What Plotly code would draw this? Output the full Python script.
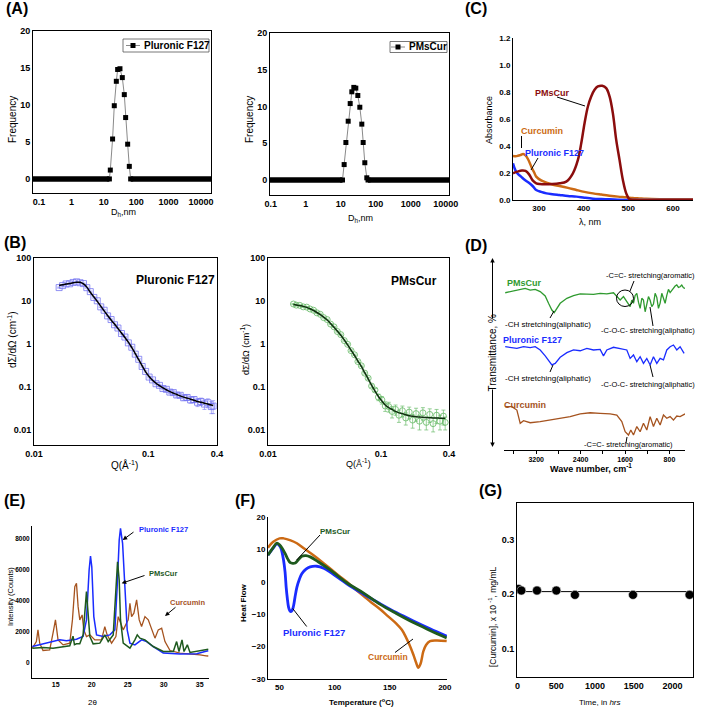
import plotly.graph_objects as go

W, H = 709, 708

# ---------------- DATA ----------------
# (A) DLS size distributions
dls_f127_size = [15.9, 18.7, 21.1, 24.4, 26.8, 31.6, 37.3, 43.0, 47.3, 54.6, 61.4]
dls_f127_freq = [1.2, 5.4, 9.9, 13.2, 14.8, 14.9, 13.7, 11.4, 8.3, 4.7, 1.7]
dls_f127_zero_lo = [0.05, 14.9]
dls_f127_zero_hi = [67.6, 30000]
dls_pms_size = [12.5, 14.0, 16.3, 18.6, 20.7, 23.6, 26.9, 30.7, 35.0, 39.9, 43.6, 48.6, 55.4]
dls_pms_freq = [2.1, 5.1, 8.0, 10.4, 12.0, 12.6, 12.5, 11.5, 9.9, 7.6, 5.1, 2.35, 0.3]
dls_pms_zero_lo = [0.05, 11.2]
dls_pms_zero_hi = [60.0, 30000]
dls_xticks = [0.1, 1, 10, 100, 1000, 10000]

# (B) SANS
sans_q = [0.0166, 0.0178, 0.0191, 0.0205, 0.022, 0.0236, 0.0253, 0.0271, 0.029, 0.0311,
          0.0334, 0.0358, 0.0384, 0.0411, 0.0441, 0.0473, 0.0507, 0.0543, 0.0583, 0.0625,
          0.067, 0.0718, 0.077, 0.0826, 0.0885, 0.0949, 0.1018, 0.1091, 0.117, 0.1254,
          0.1345, 0.1442, 0.1546, 0.1658, 0.1777, 0.1906, 0.2043, 0.2191, 0.2349, 0.2518,
          0.27, 0.2895, 0.3104, 0.3328, 0.3568, 0.37]
f127_fit = [23, 23.8, 24.8, 25.6, 26.5, 27.3, 27.2, 25.0, 21.0, 16.0,
            12.5, 9.8, 7.6, 5.9, 4.6, 3.6, 2.9, 2.3, 1.8, 1.42,
            1.1, 0.82, 0.6, 0.43, 0.31, 0.225, 0.175, 0.143, 0.122, 0.107,
            0.095, 0.086, 0.078, 0.072, 0.067, 0.062, 0.058, 0.055, 0.052, 0.049,
            0.046, 0.044, 0.042, 0.040, 0.038, 0.037]
f127_data = [20.5, 22.8, 24.9, 25.1, 27.0, 27.9, 26.6, 25.4, 20.4, 16.5,
             12.1, 10.1, 7.3, 6.1, 4.5, 3.7, 2.8, 2.35, 1.75, 1.45,
             1.06, 0.84, 0.58, 0.44, 0.30, 0.23, 0.17, 0.146, 0.119, 0.109,
             0.092, 0.088, 0.076, 0.074, 0.065, 0.064, 0.056, 0.057, 0.050, 0.051,
             0.044, 0.046, 0.040, 0.043, 0.035, 0.036]
f127_err = [0.6, 0.6, 0.7, 0.7, 0.7, 0.7, 0.7, 0.7, 0.6, 0.5,
            0.4, 0.3, 0.25, 0.2, 0.15, 0.12, 0.1, 0.08, 0.06, 0.05,
            0.04, 0.03, 0.02, 0.016, 0.012, 0.009, 0.007, 0.006, 0.006, 0.006,
            0.006, 0.006, 0.006, 0.007, 0.007, 0.007, 0.007, 0.008, 0.008, 0.008,
            0.009, 0.009, 0.01, 0.01, 0.011, 0.012]
pms_fit = [8.3, 8.1, 7.8, 7.5, 7.1, 6.6, 6.0, 5.4, 4.8, 4.2,
           3.6, 3.0, 2.45, 2.0, 1.6, 1.25, 0.95, 0.72, 0.54, 0.40,
           0.30, 0.215, 0.155, 0.11, 0.08, 0.06, 0.047, 0.038, 0.033, 0.030,
           0.027, 0.025, 0.024, 0.0225, 0.0215, 0.0208, 0.0203, 0.020, 0.0197, 0.0194,
           0.0192, 0.019, 0.0189, 0.0188, 0.0187, 0.0187]
pms_data = [8.5, 8.0, 7.9, 7.3, 7.2, 6.5, 6.1, 5.3, 4.9, 4.1,
            3.7, 2.9, 2.5, 1.95, 1.65, 1.2, 0.98, 0.7, 0.56, 0.39,
            0.31, 0.21, 0.16, 0.105, 0.085, 0.058, 0.05, 0.036, 0.035, 0.027,
            0.03, 0.022, 0.028, 0.019, 0.026, 0.017, 0.024, 0.016, 0.025, 0.015,
            0.023, 0.014, 0.022, 0.016, 0.021, 0.015]
pms_err = [0.2, 0.2, 0.2, 0.2, 0.2, 0.2, 0.15, 0.15, 0.12, 0.1,
           0.09, 0.08, 0.07, 0.06, 0.05, 0.04, 0.03, 0.025, 0.02, 0.015,
           0.012, 0.01, 0.008, 0.007, 0.007, 0.01, 0.01, 0.009, 0.009, 0.008,
           0.008, 0.007, 0.008, 0.006, 0.008, 0.006, 0.008, 0.006, 0.008, 0.005,
           0.008, 0.005, 0.008, 0.006, 0.008, 0.005]

# (C) UV-Vis
uv_pms_nm = [242, 252, 262, 270, 278, 286, 294, 302, 315, 330, 346.3, 361.2, 376.1, 387.3,
             394.8, 402.2, 409.7, 417.1, 424.6, 432, 441.8, 450.7, 458.2, 465.6, 473.1,
             480.5, 488, 495.5, 503, 515, 600, 645]
uv_pms_abs = [0.198, 0.21, 0.218, 0.215, 0.19, 0.145, 0.124, 0.118, 0.116, 0.118, 0.124, 0.136,
              0.198, 0.297, 0.42, 0.569, 0.693, 0.767, 0.816, 0.841, 0.846, 0.829, 0.767,
              0.643, 0.445, 0.297, 0.148, 0.049, 0.005, 0.0, 0.0, 0.0]
uv_cur_nm = [242, 250, 258, 264.7, 270, 276, 283, 290, 294, 305, 317, 330, 346, 365, 384,
             402, 421, 440, 458, 477, 495.5, 510, 525, 540, 570, 600, 645]
uv_cur_abs = [0.327, 0.325, 0.332, 0.341, 0.33, 0.3, 0.247, 0.2, 0.173, 0.145, 0.129, 0.115,
              0.104, 0.09, 0.074, 0.06, 0.049, 0.04, 0.032, 0.025, 0.02, 0.015, 0.012, 0.009,
              0.006, 0.005, 0.005]
uv_f127_nm = [242, 245, 249, 254, 260, 268, 279, 287, 294, 305, 317, 330, 346, 365, 384, 402,
              421, 440, 458, 477, 495.5, 520, 645]
uv_f127_abs = [0.272, 0.24, 0.21, 0.19, 0.173, 0.15, 0.124, 0.1, 0.074, 0.06, 0.049, 0.043,
               0.037, 0.03, 0.025, 0.017, 0.01, 0.007, 0.005, 0.002, 0.0, 0.0, 0.0]

# (D) FTIR (transmittance, arbitrary offset scale)
ir_pms_wn = [3758, 3668, 3578, 3488, 3398, 3308, 3218, 3128, 3038, 2978, 2918, 2876, 2828, 2768,
             2648, 2528, 2408, 2288, 2168, 2048, 1928, 1808, 1748, 1688, 1628, 1568, 1538, 1508,
             1478, 1448, 1418, 1388, 1358, 1328, 1298, 1268, 1238, 1208, 1178, 1148, 1118, 1088,
             1058, 1028, 998, 968, 938, 908, 878, 848, 818, 788, 758, 728, 698, 668, 638, 608,
             578, 548, 518]
ir_pms_t = [81.9, 82.5, 83.0, 83.7, 84.2, 83.3, 83.7, 82.5, 80.2, 76.4, 72.9, 71.5, 73.8, 76.4,
            79.0, 80.4, 81.3, 81.3, 81.1, 81.6, 81.3, 81.9, 79.9, 78.1, 79.9, 77.3, 75.5, 74.7,
            78.1, 76.4, 80.5, 81.6, 77.0, 73.8, 79.0, 78.1, 72.0, 75.5, 79.9, 78.0, 74.7, 76.0,
            81.6, 79.5, 73.8, 76.5, 81.6, 79.0, 76.4, 80.5, 83.7, 82.0, 83.3, 84.0, 85.4, 86.0,
            84.7, 85.0, 85.9, 84.5, 84.2]
ir_f127_wn = [3758, 3668, 3548, 3428, 3308, 3218, 3128, 3038, 2978, 2918, 2858, 2768, 2648, 2528,
              2408, 2288, 2168, 2048, 1988, 1928, 1808, 1688, 1568, 1508, 1448, 1388, 1328, 1268,
              1208, 1148, 1088, 1028, 968, 908, 848, 788, 728, 668, 608, 536]
ir_f127_t = [53.8, 53.5, 52.9, 53.8, 53.3, 53.8, 52.1, 49.0, 46.9, 44.3, 45.1, 48.3, 50.7, 52.1,
             51.7, 52.9, 52.1, 52.4, 49.0, 52.1, 53.5, 52.9, 52.1, 47.7, 49.5, 46.0, 48.6, 45.1,
             47.7, 44.3, 48.6, 45.1, 47.7, 46.9, 52.1, 53.8, 54.7, 52.1, 53.8, 50.3]
ir_cur_wn = [3758, 3638, 3548, 3488, 3428, 3308, 3128, 2948, 2768, 2588, 2408, 2228, 2048, 1868,
             1748, 1658, 1598, 1538, 1496, 1448, 1388, 1328, 1268, 1208, 1148, 1088, 1028, 968,
             908, 848, 788, 728, 668, 608, 518]
ir_cur_t = [22.6, 22.6, 20.8, 13.9, 15.3, 14.2, 14.8, 15.6, 16.5, 17.4, 18.8, 19.4, 19.1, 18.8,
            18.2, 14.8, 9.5, 7.8, 10.4, 7.8, 12.2, 9.5, 13.9, 10.4, 17.4, 12.2, 16.5, 13.0,
            18.2, 16.5, 17.4, 15.6, 17.7, 17.4, 18.8]
ir_xticks = [3600, 3200, 2800, 2400, 2000, 1600, 1200, 800]
ir_xlabels = ["", "3200", "", "2400", "", "1600", "", "800"]

# (E) XRD
xrd_f127_2t = [11.75, 12.77, 14.16, 15.56, 16.49, 17.88, 18.8, 19.27, 19.64, 19.83, 20.01, 20.29,
               20.67, 21.59, 22.52, 23.22, 23.54, 23.82, 24.0, 24.29, 24.61, 24.93, 25.31, 26.0,
               26.93, 27.63, 28.55, 29.94, 32.27, 34.6, 35.75, 36.2]
xrd_f127_i = [1029, 1138, 1286, 1460, 1395, 1505, 1672, 2746, 5961, 6861, 6173, 2958,
              1781, 1672, 1781, 2103, 4887, 7891, 8643, 7678, 4887, 2103, 1247, 1138,
              1460, 1350, 1029, 604, 540, 560, 707, 760]
xrd_pms_2t = [11.75, 13.23, 14.62, 16.02, 16.95, 17.4, 17.6, 17.88, 18.34, 18.8, 19.08, 19.27,
              19.46, 19.74, 20.2, 21.13, 21.82, 22.29, 22.99, 23.36, 23.59, 23.82, 24.0, 24.38,
              25.31, 26.0, 26.33, 26.7, 27.4, 28.55, 29.94, 31.34, 31.8, 32.13, 32.55, 32.83,
              33.29, 33.66, 34.6, 35.75, 36.2]
xrd_pms_i = [926, 965, 926, 990, 1074, 1700, 1150, 1203, 1203, 1781, 3177, 4566,
             3389, 1672, 1203, 1247, 1781, 1350, 1781, 4462, 6495, 5318, 2746, 1247,
             926, 1460, 1781, 1569, 1460, 1029, 707, 707, 1350, 707, 1460, 707,
             1138, 643, 707, 817, 850]
xrd_cur_2t = [11.75, 12.31, 12.53, 12.77, 13.23, 14.16, 14.62, 14.96, 15.32, 16.02, 16.95, 17.32,
              17.65, 17.88, 18.11, 18.34, 18.67, 18.9, 19.27, 19.74, 20.43, 21.36, 21.82, 22.14,
              22.76, 23.36, 23.68, 24.0, 24.38, 25.07, 25.31, 25.54, 25.86, 26.24, 26.6, 26.93,
              27.4, 27.86, 28.33, 28.79, 29.25, 29.72, 30.18, 30.88, 32.27, 33.66, 35.06, 35.89,
              36.2]
xrd_cur_i = [926, 1350, 2103, 1247, 772, 817, 1890, 2746, 1460, 1138, 1247, 2746,
             4887, 5104, 3601, 2746, 3067, 2103, 1672, 1781, 1460, 1460, 2315, 1781,
             1247, 1672, 2958, 2533, 2103, 2746, 3820, 2958, 3177, 4032, 2746, 2315,
             2958, 2746, 2103, 1569, 2103, 2212, 1350, 772, 604, 560, 495, 431, 420]

# (F) DSC
dsc_cur_t = [39.4, 44, 50, 53.6, 60, 65.7, 73, 80.8, 88, 95.9, 103, 111, 118, 126, 133, 141,
             148, 156, 161, 165, 168, 171.5, 174, 176, 178, 180.5, 183, 186.6, 192.6, 201.7]
dsc_cur_hf = [10.5, 12.3, 13.4, 13.4, 12.8, 11.9, 10.1, 8.2, 6.3, 4.1, 2.1, 0, -2.1, -4.3, -6.3,
              -8.4, -10.5, -12.9, -14.8, -17.3, -19.5, -22.5, -25, -26.5, -25.3, -21.5, -19.5,
              -18.3, -18.1, -18.3]
dsc_pms_t = [39.4, 44, 47.6, 50, 52.5, 55, 57.5, 59.7, 62, 64.2, 67, 70.2, 74, 77.8, 85, 95.9,
             111, 126, 141, 156, 171.5, 186.6, 201.7]
dsc_pms_hf = [8.2, 10.5, 11.9, 11.4, 10.3, 8.75, 7.0, 5.9, 5.7, 5.8, 6.8, 7.9, 8.1, 7.7, 6.2,
              3.7, -0.3, -3.4, -6.9, -9.8, -12.6, -15, -17.3]
dsc_f127_t = [39.4, 44, 47.6, 50.6, 52, 53.6, 55, 56, 57, 58.2, 59.3, 60.3, 61.5, 62.7, 64,
              65.7, 68, 70.2, 74, 77.8, 83.8, 90, 95.9, 111, 126, 141, 156, 171.5, 186.6, 201.7]
dsc_f127_hf = [8.2, 10.3, 11.7, 10.8, 9.5, 6.7, 3.0, -1.7, -5.0, -7.9, -8.9, -9.2, -8.8, -7.4,
               -4.8, -1.7, 0.8, 2.5, 3.9, 4.6, 4.8, 4.2, 3.0, -0.6, -3.75, -6.7, -9.5, -12.1,
               -14.5, -16.8]

# (G) stability
stab_time = [12, 48, 250, 500, 740, 1490, 2220]
stab_conc = [0.21, 0.207, 0.207, 0.207, 0.199, 0.199, 0.199]
stab_fit_time = [-50, 2400]
stab_fit_conc = [0.205, 0.205]

# ---------------- helpers ----------------
def px(x):
    return x / W

def py(y):
    return 1 - y / H

FONT = "Liberation Sans, Arial, sans-serif"
BLUE = "#1a2cff"
DKRED = "#8b0d0d"
ORANGE = "#cc6a14"
DKGREEN = "#1e5a1e"
GREEN = "#2f9a2f"
BROWN = "#a5531f"

fig = go.Figure()

def add(trace, n):
    suffix = "" if n == 1 else str(n)
    trace.update(xaxis="x" + suffix, yaxis="y" + suffix, showlegend=False, hoverinfo="skip")
    fig.add_trace(trace)

# (A)
for n, (sz, fr, zlo, zhi) in enumerate(
        [(dls_f127_size, dls_f127_freq, dls_f127_zero_lo, dls_f127_zero_hi),
         (dls_pms_size, dls_pms_freq, dls_pms_zero_lo, dls_pms_zero_hi)], start=1):
    add(go.Scatter(x=zlo, y=[0, 0], mode="lines", line=dict(color="black", width=5.5)), n)
    add(go.Scatter(x=zhi, y=[0, 0], mode="lines", line=dict(color="black", width=5.5)), n)
    add(go.Scatter(x=[zlo[1]] + sz + [zhi[0]], y=[0] + fr + [0], mode="lines+markers",
                   line=dict(color="#8a8a8a", width=1),
                   marker=dict(symbol="square", size=5, color="black")), n)

# (C)
add(go.Scatter(x=uv_cur_nm, y=uv_cur_abs, mode="lines", line=dict(color=ORANGE, width=2.5, shape="spline")), 3)
add(go.Scatter(x=uv_f127_nm, y=uv_f127_abs, mode="lines", line=dict(color=BLUE, width=2.5, shape="spline")), 3)
add(go.Scatter(x=uv_pms_nm, y=uv_pms_abs, mode="lines", line=dict(color=DKRED, width=2.5, shape="spline")), 3)

# (B)
add(go.Scatter(x=sans_q, y=f127_data, mode="markers",
               error_y=dict(type="data", array=f127_err, color="rgba(120,120,240,0.6)", thickness=1, width=2),
               marker=dict(symbol="square-open", size=6, color="rgba(110,110,240,0.75)", line=dict(width=1))), 4)
add(go.Scatter(x=sans_q, y=f127_fit, mode="lines", line=dict(color="black", width=1.5, shape="spline")), 4)
add(go.Scatter(x=[0.0168] + sans_q[1:], y=pms_data, mode="markers",
               error_y=dict(type="data", array=pms_err, color="rgba(110,190,110,0.7)", thickness=1, width=2),
               marker=dict(symbol="circle-open", size=6, color="rgba(100,185,100,0.8)", line=dict(width=1))), 5)
add(go.Scatter(x=[0.0168] + sans_q[1:], y=pms_fit, mode="lines", line=dict(color="#0f2f0f", width=1.5, shape="spline")), 5)

# (D)
add(go.Scatter(x=ir_pms_wn, y=ir_pms_t, mode="lines", line=dict(color=GREEN, width=1.3)), 6)
add(go.Scatter(x=ir_f127_wn, y=ir_f127_t, mode="lines", line=dict(color=BLUE, width=1.3)), 6)
add(go.Scatter(x=ir_cur_wn, y=ir_cur_t, mode="lines", line=dict(color=BROWN, width=1.3)), 6)

# (E)
add(go.Scatter(x=xrd_cur_2t, y=xrd_cur_i, mode="lines", line=dict(color=BROWN, width=1.3)), 7)
add(go.Scatter(x=xrd_f127_2t, y=xrd_f127_i, mode="lines", line=dict(color=BLUE, width=1.5)), 7)
add(go.Scatter(x=xrd_pms_2t, y=xrd_pms_i, mode="lines", line=dict(color=DKGREEN, width=1.5)), 7)

# (F)
add(go.Scatter(x=dsc_cur_t, y=dsc_cur_hf, mode="lines", line=dict(color=ORANGE, width=2.5, shape="spline")), 8)
add(go.Scatter(x=dsc_f127_t, y=dsc_f127_hf, mode="lines", line=dict(color=BLUE, width=2.8, shape="spline")), 8)
add(go.Scatter(x=dsc_pms_t, y=dsc_pms_hf, mode="lines", line=dict(color=DKGREEN, width=2.8, shape="spline")), 8)

# (G)
add(go.Scatter(x=stab_fit_time, y=stab_fit_conc, mode="lines", line=dict(color="black", width=1)), 9)
add(go.Scatter(x=stab_time, y=stab_conc, mode="markers",
               marker=dict(symbol="circle", size=9, color="black", line=dict(color="#dddddd", width=0.6))), 9)

# ---------------- axes ----------------
def axis(dom, rng, **kw):
    d = dict(domain=dom, range=rng, showgrid=False, zeroline=False, showline=True, automargin=False,
             linecolor="black", linewidth=1, ticks="", tickfont=dict(family=FONT, size=9, color="black"))
    d.update(kw)
    return d

bold9 = dict(family=FONT, size=9, color="black", weight="bold")
bold8 = dict(family=FONT, size=8, color="black", weight="bold")
bold7 = dict(family=FONT, size=7, color="black", weight="bold")

lay = {}
# A1
lay["xaxis"] = axis([px(33), px(211)], [-1.185, 4.31], type="log", mirror=True, anchor="y",
                    tickvals=dls_xticks, ticktext=[str(v) for v in dls_xticks], tickfont=bold9)
lay["yaxis"] = axis([py(193), py(31)], [-1.9, 20], mirror=True, anchor="x",
                    tickvals=[0, 5, 10, 15, 20], tickfont=bold9)
# A2
lay["xaxis2"] = axis([px(270), px(449)], [-1.02, 4.09], type="log", mirror=True, anchor="y2",
                     tickvals=dls_xticks, ticktext=[str(v) for v in dls_xticks], tickfont=bold9)
lay["yaxis2"] = axis([py(195), py(33)], [-2.04, 20], mirror=True, anchor="x2",
                     tickvals=[0, 5, 10, 15, 20], tickfont=bold9)
# C
lay["xaxis3"] = axis([px(513), px(693)], [242, 645], anchor="y3", tickvals=[300, 400, 500, 600], tickfont=bold8)
lay["yaxis3"] = axis([py(200), py(38)], [0, 1.2], anchor="x3", tickvals=[0, 0.2, 0.4, 0.6, 0.8, 1.0, 1.2],
                     tickformat=".1f", tickfont=bold8)
# B
for n, (x0, x1) in [(4, (34, 217)), (5, (268, 449))]:
    lay[f"xaxis{n}"] = axis([px(x0), px(x1)], [-2, -0.398], type="log", mirror=True, anchor=f"y{n}",
                           tickvals=[0.01, 0.1, 0.4], ticktext=["0.01", "0.1", "0.4"], tickfont=bold9)
    lay[f"yaxis{n}"] = axis([py(445), py(258)], [-2.35, 2], type="log", mirror=True, anchor=f"x{n}",
                           tickvals=[0.01, 0.1, 1, 10, 100], ticktext=["0.01", "0.1", "1", "10", "100"],
                           tickfont=bold9)
# D
lay["xaxis6"] = axis([px(504), px(685)], [3780, 520], anchor="y6", tickvals=ir_xticks, ticktext=ir_xlabels,
                     ticks="outside", ticklen=3, tickcolor="black",
                     tickfont=dict(family=FONT, size=7, color="black", weight="bold"))
lay["yaxis6"] = dict(domain=[py(450), py(258)], range=[0, 100], visible=False, anchor="x6", automargin=False)
# E
lay["xaxis7"] = axis([px(32), px(209)], [11.7, 36.3], anchor="y7", tickvals=[15, 20, 25, 30, 35], tickfont=bold7)
lay["yaxis7"] = axis([py(678), py(526)], [-1000, 8800], anchor="x7", tickvals=[0, 2000, 4000, 6000, 8000],
                     tickfont=dict(family=FONT, size=6.5, color="black", weight="bold"))
# F
lay["xaxis8"] = axis([px(268), px(447)], [39.5, 202], anchor="y8", tickvals=[50, 100, 150, 200], tickfont=bold8)
lay["yaxis8"] = axis([py(679), py(517)], [-30, 20], anchor="x8", tickvals=[-30, -20, -10, 0, 10, 20],
                     tickfont=bold8)
# G
lay["xaxis9"] = axis([px(517), px(693)], [-8, 2265], mirror=True, anchor="y9",
                     tickvals=[0, 500, 1000, 1500, 2000], tickfont=bold9)
lay["yaxis9"] = axis([py(677), py(503)], [0.047, 0.369], mirror=True, anchor="x9",
                     tickvals=[0.1, 0.2, 0.3], tickfont=bold9)

# ---------------- annotations ----------------
ann = []

def txt(x, y, s, size=10, color="black", bold=False, xanchor="center", angle=0):
    f = dict(family=FONT, size=size, color=color)
    if bold:
        f["weight"] = "bold"
    ann.append(dict(x=px(x), y=py(y), xref="paper", yref="paper", text=s, showarrow=False,
                    font=f, xanchor=xanchor, yanchor="middle", textangle=angle))

def arrow(tx, ty, hx, hy, head=2):
    ann.append(dict(x=px(hx), y=py(hy), xref="paper", yref="paper", text="", showarrow=True,
                    ax=tx - hx, ay=ty - hy, arrowhead=head, arrowsize=0.9, arrowwidth=1,
                    arrowcolor="black"))

shapes = []

def seg(x0, y0, x1, y1):
    shapes.append(dict(type="line", xref="paper", yref="paper", x0=px(x0), y0=py(y0),
                       x1=px(x1), y1=py(y1), line=dict(color="black", width=1)))

# panel letters
for lbl, x, y in [("(A)", 4, 9), ("(B)", 2, 243), ("(C)", 463, 8), ("(D)", 463, 245),
                  ("(E)", 2, 500), ("(F)", 233, 500), ("(G)", 477, 490)]:
    txt(x, y, lbl, size=16, bold=True, xanchor="left")

# A titles and legends
txt(123, 212, "D<sub>h</sub>,nm", size=9)
txt(360, 218, "D<sub>h</sub>,nm", size=9)
txt(12, 120, "Frequency", size=10, angle=-90)
txt(249, 120, "Frequency", size=10, angle=-90)
for (bx0, bx1, by0, by1, sx, label) in [(123, 209, 39, 52, 133, "Pluronic F127"),
                                         (390, 447, 41.5, 52.5, 398, "PMsCur")]:
    shapes.append(dict(type="rect", xref="paper", yref="paper", x0=px(bx0), x1=px(bx1),
                       y0=py(by1), y1=py(by0), line=dict(color="#555555", width=0.8)))
    cy = (by0 + by1) / 2
    shapes.append(dict(type="line", xref="paper", yref="paper", x0=px(sx - 7), x1=px(sx + 7),
                       y0=py(cy), y1=py(cy), line=dict(color="#8a8a8a", width=1)))
    shapes.append(dict(type="rect", xref="paper", yref="paper", x0=px(sx - 2.5), x1=px(sx + 2.5),
                       y0=py(cy + 2.5), y1=py(cy - 2.5), fillcolor="black", line=dict(width=0)))
    txt(sx + 9, cy, label, size=10, bold=True, xanchor="left")

# B
txt(175, 280, "Pluronic F127", size=12, bold=True)
txt(414, 281, "PMsCur", size=12, bold=True)
txt(12, 340, "dΣ/dΩ (cm<sup>-1</sup>)", size=10, angle=-90)
txt(245, 350, "dΣ/dΩ (cm<sup>-1</sup>)", size=9, angle=-90)
txt(124, 465, "Q(Å<sup>-1</sup>)", size=10)
txt(358, 463, "Q(Å<sup>-1</sup>)", size=9)

# C
txt(489, 120, "Absorbance", size=9, angle=-90)
txt(590, 222, "λ, nm", size=9)
txt(533, 93, "PMsCur", size=9, color=DKRED, bold=True, xanchor="left")
txt(519, 131, "Curcumin", size=9, color=ORANGE, bold=True, xanchor="left")
txt(523, 153, "Pluronic F127", size=9, color=BLUE, bold=True, xanchor="left")
seg(557, 97, 585, 106)
seg(521.5, 136, 521.5, 148)
seg(538, 158, 531, 170)

# D
txt(492.5, 353, "Transmittance, %", size=10, angle=-90)
arrow(492.5, 320, 492.5, 258)
arrow(492.5, 388, 492.5, 447)
txt(591, 468, "Wave number, cm<sup>-1</sup>", size=9, bold=True)
txt(505, 283, "PMsCur", size=9, color=GREEN, bold=True, xanchor="left")
txt(501, 340, "Pluronic F127", size=9, color=BLUE, bold=True, xanchor="left")
txt(502, 405, "Curcumin", size=9, color=BROWN, bold=True, xanchor="left")
txt(604, 275, "-C=C- stretching(aromatic)", size=7.5, xanchor="left")
txt(503, 324, "-CH stretching(aliphatic)", size=8, xanchor="left")
txt(599, 330, "-C-O-C- stretching(aliphatic)", size=7.5, xanchor="left")
txt(503, 378, "-CH stretching(aliphatic)", size=8, xanchor="left")
txt(599, 384, "-C-O-C- stretching(aliphatic)", size=7.5, xanchor="left")
txt(582, 445, "-C=C- stretching(aromatic)", size=7.5, xanchor="left")
shapes.append(dict(type="circle", xref="paper", yref="paper", x0=px(616.5), x1=px(633.5),
                   y0=py(306.5), y1=py(290), line=dict(color="black", width=1)))
seg(630, 291, 634, 281)
seg(550, 318, 554, 311)
seg(653, 326, 650, 307)
seg(550, 372, 553, 365)
seg(653, 377, 650, 365)
seg(627, 437, 626, 443)

# E
txt(10, 597, "Intensity (Counts)", size=7.5, angle=-90)
txt(92, 702, "2θ", size=8)
txt(137, 529, "Pluronic F127", size=7.5, color=BLUE, bold=True, xanchor="left")
txt(147, 573, "PMsCur", size=7.5, color=DKGREEN, bold=True, xanchor="left")
txt(168, 602, "Curcumin", size=7.5, color=BROWN, bold=True, xanchor="left")
arrow(135, 531, 122.7, 540)
arrow(146, 575, 121.7, 583.3)
arrow(177, 606, 165, 616)

# F
txt(243, 603, "Heat Flow", size=8, bold=True, angle=-90)
txt(361, 702, "Temperature (<sup>o</sup>C)", size=8, bold=True)
txt(318, 531, "PMsCur", size=8, color=DKGREEN, bold=True, xanchor="left")
txt(281, 632, "Pluronic F127", size=9.5, color=BLUE, bold=True, xanchor="left")
txt(366, 657, "Curcumin", size=8.5, color=ORANGE, bold=True, xanchor="left")
seg(320, 535, 296.7, 560)
seg(306.7, 626.5, 292.7, 608.5)
seg(395, 652.5, 413, 639)

# G
txt(492, 617, "[Curcumin], x 10 <sup>-1</sup>, mg/mL", size=8.5, angle=-90)
txt(600, 702, "Time, in <i>hrs</i>", size=8)

fig.update_layout(template="none", width=W, height=H, autosize=False, margin=dict(l=0, r=0, t=0, b=0),
                  paper_bgcolor="white", plot_bgcolor="white", showlegend=False, hovermode=False,
                  annotations=ann, shapes=shapes, **lay)

fig.write_html("out.html", config={"displayModeBar": False, "staticPlot": True},
               post_script="document.body.style.margin='0';document.body.style.overflow='hidden';")
